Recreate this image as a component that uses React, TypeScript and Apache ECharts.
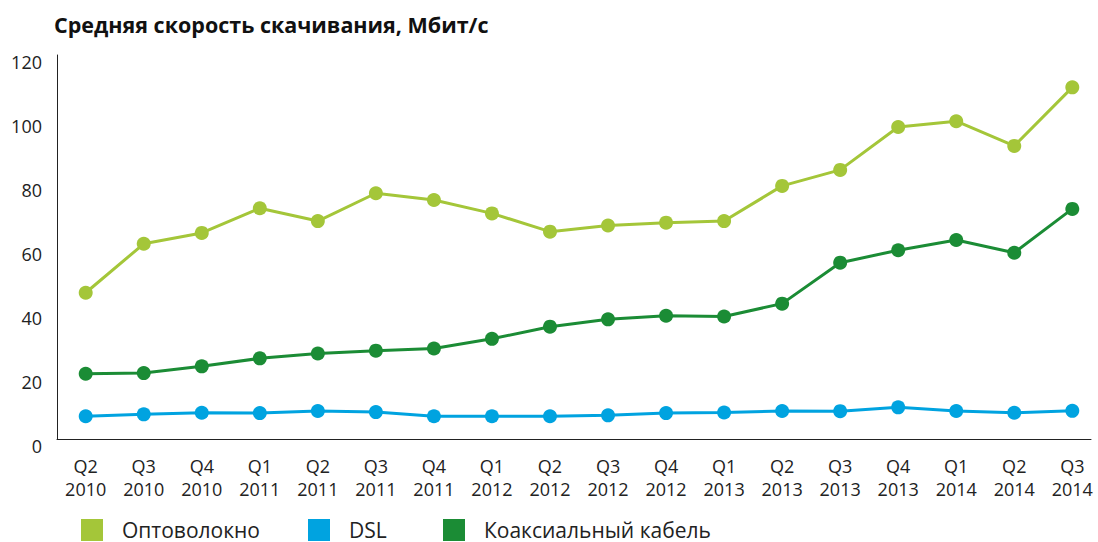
import React, { useEffect, useRef } from "react";
import * as echarts from "echarts";

const quarters = ["Q2", "Q3", "Q4", "Q1", "Q2", "Q3", "Q4", "Q1", "Q2", "Q3", "Q4", "Q1", "Q2", "Q3", "Q4", "Q1", "Q2", "Q3"];
const years = ["2010", "2010", "2010", "2011", "2011", "2011", "2011", "2012", "2012", "2012", "2012", "2013", "2013", "2013", "2013", "2014", "2014", "2014"];

const fiber = [45.7, 61.0, 64.4, 72.1, 68.1, 76.8, 74.7, 70.5, 64.8, 66.7, 67.6, 68.1, 79.1, 84.1, 97.5, 99.3, 91.6, 109.9];
const dsl = [7.1, 7.7, 8.2, 8.1, 8.75, 8.4, 7.1, 7.1, 7.1, 7.4, 8.1, 8.3, 8.75, 8.7, 9.9, 8.75, 8.2, 8.8];
const coax = [20.4, 20.6, 22.7, 25.2, 26.7, 27.6, 28.3, 31.3, 35.1, 37.4, 38.5, 38.3, 42.3, 55.1, 59.0, 62.2, 58.2, 71.9];

const seriesNames = ["Оптоволокно", "DSL", "Коаксиальный кабель"];
const colors = ["#a4c639", "#00a3e0", "#1b8c35"];
const title = "Средняя скорость скачивания, Мбит/с";

const FONT = "'Open Sans', 'Noto Sans', sans-serif";

export default function App() {
  const ref = useRef<HTMLDivElement>(null);
  useEffect(() => {
    if (!ref.current) return;
    const chart = echarts.init(ref.current, undefined, { renderer: "svg" });
    const categories = quarters.map((q, i) => q + "\n" + years[i]);
    const values = [fiber, dsl, coax];
    const legendLefts = [81, 308, 443];
    chart.setOption({
      animation: false,
      backgroundColor: "#ffffff",
      title: {
        text: title,
        left: 54,
        top: 11,
        padding: 0,
        textStyle: { fontFamily: FONT, fontSize: 21.5, fontWeight: "bold", color: "#111", lineHeight: 26 },
      },
      legend: seriesNames.map((n, i) => ({
        data: [n],
        left: legendLefts[i],
        top: 519,
        padding: 0,
        itemWidth: 22,
        itemHeight: 22,
        icon: "rect",
        selectedMode: false,
        textStyle: { fontFamily: FONT, fontSize: 21, color: "#222", lineHeight: 20, padding: [0, 0, 0, 14] },
      })),
      grid: [
        { left: 85.7, top: 55, width: 986.6, height: 384 },
        { left: 57, top: 55, width: 1034, height: 384 },
      ],
      xAxis: [
        {
          type: "category",
          gridIndex: 0,
          data: categories,
          boundaryGap: false,
          axisLine: { show: false },
          axisTick: { show: false },
          axisLabel: { fontFamily: FONT, fontSize: 18, color: "#222", lineHeight: 23, margin: 15, interval: 0 },
        },
        {
          type: "value",
          gridIndex: 1,
          min: 0,
          max: 1,
          axisLine: { show: true, lineStyle: { color: "#222", width: 1 } },
          axisTick: { show: false },
          axisLabel: { show: false },
          splitLine: { show: false },
        },
      ],
      yAxis: [
        {
          type: "value",
          gridIndex: 0,
          min: 0,
          max: 120,
          interval: 20,
          show: false,
          splitLine: { show: false },
        },
        {
          type: "value",
          gridIndex: 1,
          min: 0,
          max: 120,
          interval: 20,
          axisLine: { show: true, lineStyle: { color: "#222", width: 1 } },
          axisTick: { show: false },
          splitLine: { show: false },
          axisLabel: { fontFamily: FONT, fontSize: 18, color: "#222", margin: 15, verticalAlign: "top", lineHeight: 13 },
        },
      ],
      series: seriesNames.map((n, i) => ({
        name: n,
        type: "line",
        xAxisIndex: 0,
        yAxisIndex: 0,
        data: values[i],
        color: colors[i],
        symbol: "circle",
        symbolSize: 14,
        lineStyle: { width: 3, color: colors[i] },
        itemStyle: { color: colors[i] },
      })),
    });
    return () => chart.dispose();
  }, []);
  return <div ref={ref} style={{ position: "fixed", left: 0, top: 0, width: 1098, height: 542 }} />;
}
